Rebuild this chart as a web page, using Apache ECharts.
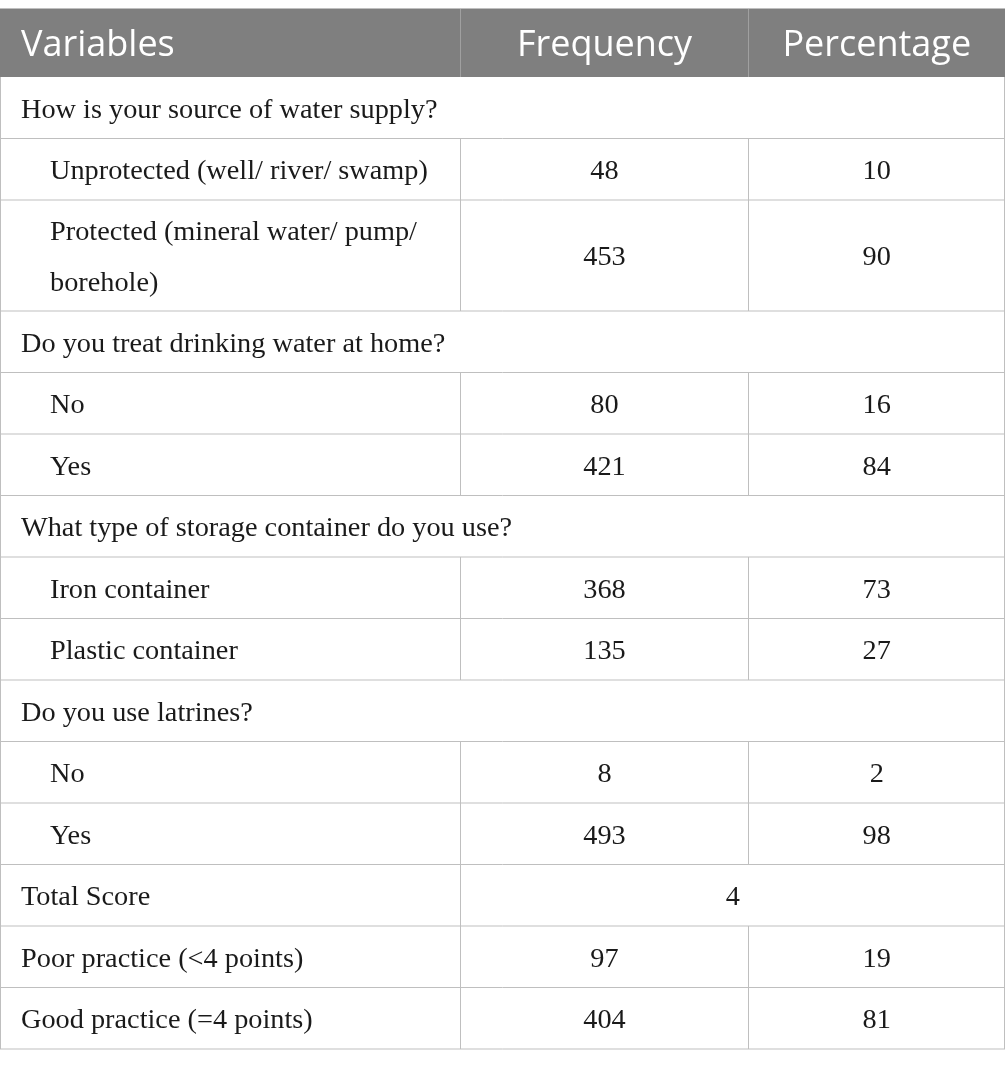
<!DOCTYPE html>
<html><head><meta charset="utf-8">
<script src="https://cdn.jsdelivr.net/npm/echarts@6/dist/echarts.min.js"></script>
<style>html,body{margin:0;padding:0;background:#fff}#c{width:1005px;height:1066px}</style>
</head><body><div id="c"></div>
<script>
// ---- data ----
const headers = ['Variables', 'Frequency', 'Percentage'];
const rowLabels = [
  'How is your source of water supply?',
  'Unprotected (well/ river/ swamp)',
  'Protected (mineral water/ pump/\nborehole)',
  'Do you treat drinking water at home?',
  'No',
  'Yes',
  'What type of storage container do you use?',
  'Iron container',
  'Plastic container',
  'Do you use latrines?',
  'No',
  'Yes',
  'Total Score',
  'Poor practice (<4 points)',
  'Good practice (=4 points)'
];
const frequency = [null, 48, 453, null, 80, 421, null, 368, 135, null, 8, 493, 4, 97, 404];
const percentage = [null, 10, 90, null, 16, 84, null, 73, 27, null, 2, 98, null, 19, 81];
const rowKinds = ['section', 'item', 'item', 'section', 'item', 'item', 'section', 'item', 'item',
  'section', 'item', 'item', 'merged', 'plain', 'plain'];

// ---- layout ----
const W = 1005, H = 1066;
const colEdges = [0.5, 460.5, 748.5, 1004.5];
const tableTop = 8.5, headerH = 68.5, rowH = 61.5, extraLineH = 49.5;
const lineColor = '#bfbfbf', headerBg = '#7f7f7f', headerLine = '#a0a0a0';
const serif = '"Liberation Serif", "DejaVu Serif", serif';
const sans = '"Open Sans", "Noto Sans", sans-serif';
const bodySize = 28.3, headerSize = 36, textLineH = 51;

const rowTops = [];
let acc = tableTop + headerH;
rowLabels.forEach((l, i) => {
  rowTops.push(acc);
  acc += rowH + (l.split('\n').length - 1) * extraLineH;
});
const tableBottom = acc;

const chart = echarts.init(document.getElementById('c'));
const rowsData = [-1].concat(rowLabels.map((_, i) => i));

function cellText(x, y, text, opts) {
  return {
    type: 'text',
    style: Object.assign({
      x: x, y: y, text: String(text), fill: '#1a1a1a',
      font: bodySize + 'px ' + serif, textAlign: 'left', textVerticalAlign: 'middle',
      lineHeight: textLineH
    }, opts || {})
  };
}

chart.setOption({
  animation: false,
  grid: { left: 0, right: 0, top: 0, bottom: 0 },
  xAxis: { type: 'value', min: 0, max: W, show: false },
  yAxis: { type: 'value', min: 0, max: H, inverse: true, show: false },
  series: [{
    type: 'custom',
    data: rowsData,
    renderItem: function (params, api) {
      const idx = api.value(0);
      const P = (x, y) => api.coord([x, y]);
      const children = [];
      const mid = (a, b) => (a + b) / 2;
      if (idx === -1) {
        const p0 = P(0, tableTop), p1 = P(W, tableTop + headerH);
        children.push({ type: 'rect', shape: { x: p0[0], y: p0[1], width: p1[0] - p0[0], height: p1[1] - p0[1] }, style: { fill: headerBg } });
        [1, 2].forEach(c => {
          const a = P(colEdges[c], tableTop), b = P(colEdges[c], tableTop + headerH);
          children.push({ type: 'line', shape: { x1: a[0], y1: a[1], x2: b[0], y2: b[1] }, style: { stroke: headerLine, lineWidth: 1 } });
        });
        const t = P(0, tableTop), t2 = P(W, tableTop);
        children.push({ type: 'line', shape: { x1: t[0], y1: t[1], x2: t2[0], y2: t2[1] }, style: { stroke: lineColor, lineWidth: 1 } });
        const cy = tableTop + headerH / 2 + 3;
        const hOpts = { fill: '#ffffff', font: headerSize + 'px ' + sans };
        let q = P(21, cy); children.push(cellText(q[0], q[1], headers[0], hOpts));
        q = P(mid(colEdges[1], colEdges[2]), cy); children.push(cellText(q[0], q[1], headers[1], Object.assign({ textAlign: 'center' }, hOpts)));
        q = P(mid(colEdges[2], W), cy); children.push(cellText(q[0], q[1], headers[2], Object.assign({ textAlign: 'center' }, hOpts)));
        return { type: 'group', children: children };
      }
      const kind = rowKinds[idx];
      const top = rowTops[idx];
      const bottom = idx + 1 < rowTops.length ? rowTops[idx + 1] : tableBottom;
      const cy = mid(top, bottom) + 2.5;
      // horizontal bottom line
      let a = P(0, bottom), b = P(W, bottom);
      children.push({ type: 'line', shape: { x1: a[0], y1: a[1], x2: b[0], y2: b[1] }, style: { stroke: lineColor, lineWidth: 1 } });
      // vertical lines
      let vcols = [0, 3];
      if (kind === 'item' || kind === 'plain') vcols = [0, 1, 2, 3];
      if (kind === 'merged') vcols = [0, 1, 3];
      vcols.forEach(c => {
        const v0 = P(colEdges[c], top), v1 = P(colEdges[c], bottom);
        children.push({ type: 'line', shape: { x1: v0[0], y1: v0[1], x2: v1[0], y2: v1[1] }, style: { stroke: lineColor, lineWidth: 1 } });
      });
      const lx = kind === 'item' ? 50 : 21;
      let q = P(lx, cy);
      children.push(cellText(q[0], q[1], rowLabels[idx]));
      if (kind === 'merged') {
        q = P(mid(colEdges[1], W), cy);
        children.push(cellText(q[0], q[1], frequency[idx], { textAlign: 'center' }));
      } else if (kind !== 'section') {
        q = P(mid(colEdges[1], colEdges[2]), cy);
        children.push(cellText(q[0], q[1], frequency[idx], { textAlign: 'center' }));
        q = P(mid(colEdges[2], W), cy);
        children.push(cellText(q[0], q[1], percentage[idx], { textAlign: 'center' }));
      }
      return { type: 'group', children: children };
    }
  }]
});
</script></body></html>
